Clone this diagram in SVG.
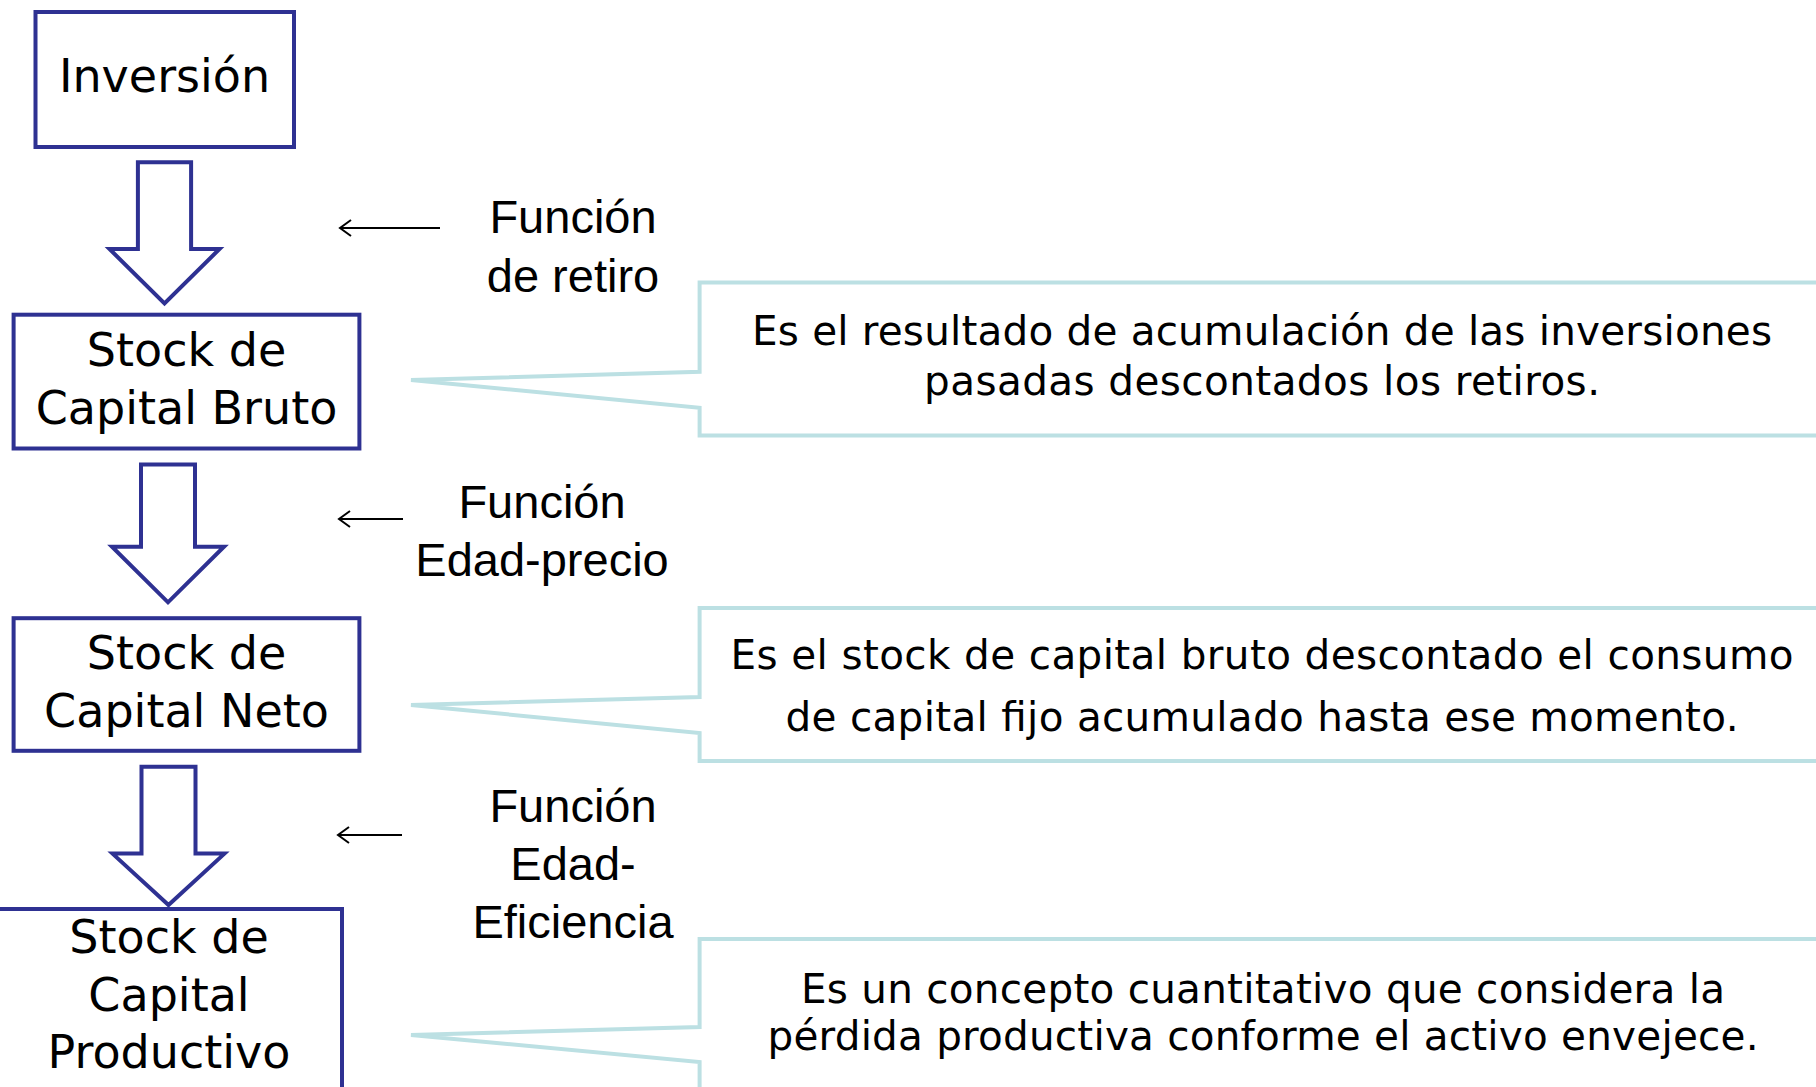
<svg xmlns="http://www.w3.org/2000/svg" width="1816" height="1087" viewBox="0 0 1816 1087">
<style>
.box{fill:#fff;stroke:#2e3192;stroke-width:4}
.barrow{fill:#fff;stroke:#2e3192;stroke-width:4;stroke-linejoin:miter}
.callout{fill:#fff;stroke:#bce0e3;stroke-width:4;stroke-linejoin:miter}
.bt{font-family:"DejaVu Sans",sans-serif;font-size:46px;fill:#000;text-anchor:middle}
.ft{font-family:"Liberation Sans",Arial,sans-serif;font-size:47px;fill:#000;text-anchor:middle}
.ct{font-family:"DejaVu Sans",sans-serif;font-size:40.5px;fill:#000;text-anchor:middle}
.thin{stroke:#000;stroke-width:2;fill:none}
</style>
<rect width="1816" height="1087" fill="#fff"/>

<g id="connectors">
<polygon class="barrow" points="137.9,162.2 191.1,162.2 191.1,249 219.5,249 164.5,303.4 109.5,249 137.9,249"/>
<polygon class="barrow" points="141,464.4 195,464.4 195,546.7 224,546.7 168,602.3 112,546.7 141,546.7"/>
<polygon class="barrow" points="141.5,766.7 195.5,766.7 195.5,853.6 224.5,853.6 168.5,905 112.5,853.6 141.5,853.6"/>
<path class="thin" d="M440,228 H340 M351,220 L340,228 L351,236"/>
<path class="thin" d="M403,519 H339 M350,511 L339,519 L350,527"/>
<path class="thin" d="M402,835 H338 M349,827 L338,835 L349,843"/>
</g>

<g id="node-inversion">
<rect class="box" x="35.5" y="12" width="258.5" height="135"/>
<text class="bt" x="164.5" y="92">Inversión</text>
</g>

<g id="node-bruto">
<rect class="box" x="13.6" y="314.7" width="345.8" height="133.8"/>
<text class="bt" x="186.5" y="366">Stock de</text>
<text class="bt" x="186.5" y="424">Capital Bruto</text>
</g>

<g id="node-neto">
<rect class="box" x="13.6" y="618.2" width="345.8" height="132.6"/>
<text class="bt" x="186.5" y="669">Stock de</text>
<text class="bt" x="186.5" y="727">Capital Neto</text>
</g>

<g id="node-productivo">
<rect class="box" x="-6" y="909" width="348" height="200"/>
<text class="bt" x="169" y="953">Stock de</text>
<text class="bt" x="169" y="1011">Capital</text>
<text class="bt" x="169" y="1068">Productivo</text>
</g>

<g id="label-retiro">
<text class="ft" x="573" y="233">Función</text>
<text class="ft" x="573" y="292">de retiro</text>
</g>

<g id="label-edad-precio">
<text class="ft" x="542" y="518">Función</text>
<text class="ft" x="542" y="576">Edad-precio</text>
</g>

<g id="label-edad-eficiencia">
<text class="ft" x="573" y="822">Función</text>
<text class="ft" x="573" y="880">Edad-</text>
<text class="ft" x="573" y="938">Eficiencia</text>
</g>

<g id="callout-bruto">
<path class="callout" d="M699.6,282.6 H1830 V435.5 H699.6 V407.7 L411,380 L699.6,371.8 Z"/>
<text class="ct" x="1262" y="345" textLength="1020" lengthAdjust="spacing">Es el resultado de acumulación de las inversiones</text>
<text class="ct" x="1262" y="395" textLength="676" lengthAdjust="spacing">pasadas descontados los retiros.</text>
</g>

<g id="callout-neto">
<path class="callout" d="M699.6,608 H1830 V761 H699.6 V733 L411,705 L699.6,697 Z"/>
<text class="ct" x="1262" y="669" textLength="1063" lengthAdjust="spacing">Es el stock de capital bruto descontado el consumo</text>
<text class="ct" x="1262" y="731" textLength="953" lengthAdjust="spacing">de capital fijo acumulado hasta ese momento.</text>
</g>

<g id="callout-productivo">
<path class="callout" d="M699.6,939 H1830 V1100 H699.6 V1062 L411,1035 L699.6,1027 Z"/>
<text class="ct" x="1263" y="1003" textLength="924" lengthAdjust="spacing">Es un concepto cuantitativo que considera la</text>
<text class="ct" x="1263" y="1050" textLength="991" lengthAdjust="spacing">pérdida productiva conforme el activo envejece.</text>
</g>
</svg>
